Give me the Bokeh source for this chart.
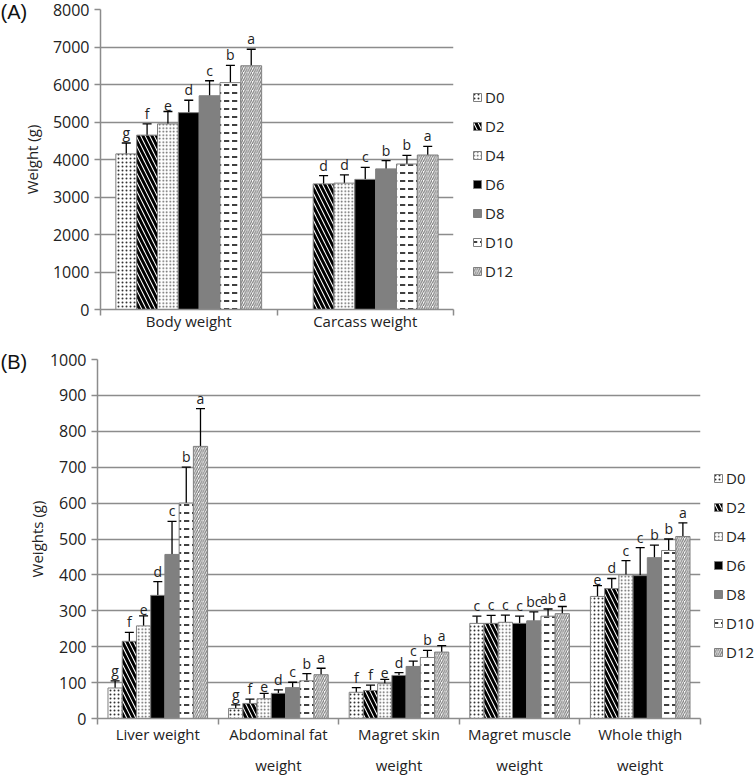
from bokeh.plotting import figure
from bokeh.models import ColumnDataSource, Whisker, TeeHead, FixedTicker, Legend, LegendItem, Range1d
from bokeh.embed import file_html
from bokeh.resources import INLINE
from bokeh.core.properties import value

FONT = "Open Sans"

series = ["D0", "D2", "D4", "D6", "D8", "D10", "D12"]

# ---- Panel A data ----
cats_a = ["Body weight", "Carcass weight"]
body_mean = [4150, 4650, 4950, 5250, 5700, 6050, 6500]
body_err = [290, 300, 330, 330, 400, 460, 440]
body_sig = ["g", "f", "e", "d", "c", "b", "a"]
carcass_mean = [None, 3350, 3370, 3470, 3750, 3880, 4120]
carcass_err = [None, 220, 220, 320, 220, 230, 230]
carcass_sig = [None, "d", "d", "c", "b", "b", "a"]

# ---- Panel B data ----
cats_b = ["Liver weight", "Abdominal fat\nweight", "Magret skin\nweight",
          "Magret muscle\nweight", "Whole thigh\nweight"]
liver_mean = [85, 215, 258, 343, 457, 600, 758]
liver_err = [20, 25, 28, 38, 92, 100, 105]
liver_sig = ["g", "f", "e", "d", "c", "b", "a"]
fat_mean = [28, 42, 55, 70, 86, 105, 122]
fat_err = [10, 12, 15, 10, 15, 20, 18]
fat_sig = ["g", "f", "e", "d", "c", "b", "a"]
skin_mean = [73, 78, 97, 120, 145, 170, 185]
skin_err = [13, 15, 12, 8, 15, 20, 18]
skin_sig = ["f", "f", "e", "d", "c", "b", "a"]
muscle_mean = [265, 265, 268, 265, 272, 285, 292]
muscle_err = [20, 22, 20, 20, 25, 20, 20]
muscle_sig = ["c", "c", "c", "c", "bc", "ab", "a"]
thigh_mean = [340, 362, 400, 398, 448, 468, 507]
thigh_err = [30, 28, 40, 78, 35, 32, 38]
thigh_sig = ["e", "d", "c", "c", "b", "b", "a"]

styles = [
    dict(fill_color="white", hatch_pattern="dot", hatch_color="#333333", hatch_scale=4, hatch_weight=0.6),
    dict(fill_color="white", hatch_pattern="left_diagonal_line", hatch_color="black", hatch_scale=9, hatch_weight=3),
    dict(fill_color="white", hatch_pattern="dot", hatch_color="#555555", hatch_scale=3.5, hatch_weight=1.3),
    dict(fill_color="black"),
    dict(fill_color="#808080"),
    dict(fill_color="white", hatch_pattern="horizontal_dash", hatch_color="black", hatch_scale=8, hatch_weight=1.5),
    dict(fill_color="white", hatch_pattern="right_diagonal_line", hatch_color="#7a7a7a", hatch_scale=4.5, hatch_weight=1.2),
]

GRID = "#8c8c8c"
BAR_W = 0.118


def make_panel(cats, means, errs, sigs, ymax, ystep, ylabel, tag,
               fw, fh, left, top, bottom, legend_xy, line_h, standoff, ylab_standoff):
    n = len(cats)
    p = figure(frame_width=fw, frame_height=fh, output_backend="svg", toolbar_location=None,
               x_range=Range1d(-0.5, n - 0.5), y_range=Range1d(0, ymax),
               min_border_left=left, min_border_right=0,
               min_border_top=top, min_border_bottom=bottom)
    p.outline_line_color = None
    p.background_fill_color = "white"
    p.xgrid.grid_line_color = None
    p.ygrid.grid_line_color = GRID
    p.ygrid.grid_line_width = 1.5
    p.yaxis.ticker = FixedTicker(ticks=list(range(0, ymax + 1, ystep)))
    p.xaxis.ticker = FixedTicker(ticks=list(range(n)), minor_ticks=[k - 0.5 for k in range(n + 1)])
    p.xaxis.major_label_overrides = {k: c for k, c in enumerate(cats)}
    for ax in (p.xaxis[0], p.yaxis[0]):
        ax.axis_line_color = GRID
        ax.axis_line_width = 1.5
        ax.major_label_text_font = FONT
        ax.major_label_text_font_size = "15px"
        ax.major_label_text_color = "#222222"
    p.xaxis.major_tick_line_color = None
    p.xaxis.major_tick_out = 0
    p.xaxis.major_tick_in = 0
    p.xaxis.minor_tick_line_color = GRID
    p.xaxis.minor_tick_line_width = 1.5
    p.xaxis.minor_tick_out = 6
    p.xaxis.minor_tick_in = 0
    p.xaxis.major_label_standoff = standoff
    p.xaxis.major_label_text_line_height = line_h
    p.yaxis.major_tick_line_color = GRID
    p.yaxis.major_tick_line_width = 1.5
    p.yaxis.major_tick_out = 6
    p.yaxis.major_tick_in = 0
    p.yaxis.minor_tick_line_color = None
    p.yaxis.major_label_text_font_size = "16px"
    p.yaxis.axis_label = ylabel
    p.yaxis.axis_label_text_font = FONT
    p.yaxis.axis_label_text_font_size = "15px"
    p.yaxis.axis_label_text_font_style = "normal"
    p.yaxis.axis_label_text_color = "#222222"
    p.yaxis.axis_label_standoff = ylab_standoff

    p.title.text = tag
    p.title.align = "left"
    p.title.offset = -left
    p.title.standoff = -26
    p.title.text_font = "Liberation Sans"
    p.title.text_font_size = "20px"
    p.title.text_font_style = "normal"
    p.title.text_color = "#111111"

    items = []
    for i, s in enumerate(series):
        xs, tops, ups, los, sg = [], [], [], [], []
        for k in range(n):
            m = means[k][i]
            if m is None:
                continue
            xs.append(k + (i - 3) * BAR_W)
            tops.append(m)
            ups.append(m + errs[k][i])
            los.append(m - errs[k][i])
            sg.append(sigs[k][i])
        src = ColumnDataSource(dict(x=xs, top=tops, upper=ups, lower=los, sig=sg))
        r = p.vbar(x="x", top="top", width=BAR_W, source=src,
                   line_color="#7f7f7f", line_width=1, **styles[i])
        p.add_layout(Whisker(base="x", upper="upper", lower="lower", source=src,
                             line_color="black", line_width=1.3,
                             upper_head=TeeHead(size=9, line_color="black", line_width=1.3),
                             lower_head=TeeHead(size=9, line_color="black", line_width=1.3)))
        p.text(x="x", y="upper", text="sig", source=src, text_align="center",
               text_baseline="bottom", y_offset=-1, text_font=value(FONT),
               text_font_size="14px", text_color="#222222")
        items.append(LegendItem(label=s, renderers=[r]))

    leg = Legend(items=items, location=legend_xy, glyph_width=10, glyph_height=10,
                 label_height=16, spacing=9, padding=0, margin=16,
                 border_line_color=None, background_fill_alpha=0,
                 label_text_font=FONT, label_text_font_size="15px",
                 label_text_color="#222222", label_standoff=3)
    p.add_layout(leg, "right")
    return p


pa = make_panel(cats_a,
                [body_mean, carcass_mean], [body_err, carcass_err], [body_sig, carcass_sig],
                8000, 1000, "Weight (g)", "(A)",
                fw=353, fh=300, left=100, top=9, bottom=31, legend_xy=(19, 28),
                line_h=1.2, standoff=-5, ylab_standoff=8)
pb = make_panel(cats_b,
                [liver_mean, fat_mean, skin_mean, muscle_mean, thigh_mean],
                [liver_err, fat_err, skin_err, muscle_err, thigh_err],
                [liver_sig, fat_sig, skin_sig, muscle_sig, thigh_sig],
                1000, 100, "Weights (g)", "(B)",
                fw=603, fh=359, left=97, top=19, bottom=56, legend_xy=(13, 56),
                line_h=1.55, standoff=-1, ylab_standoff=0)

open("out.html", "w").write(file_html([pa, pb], INLINE))
